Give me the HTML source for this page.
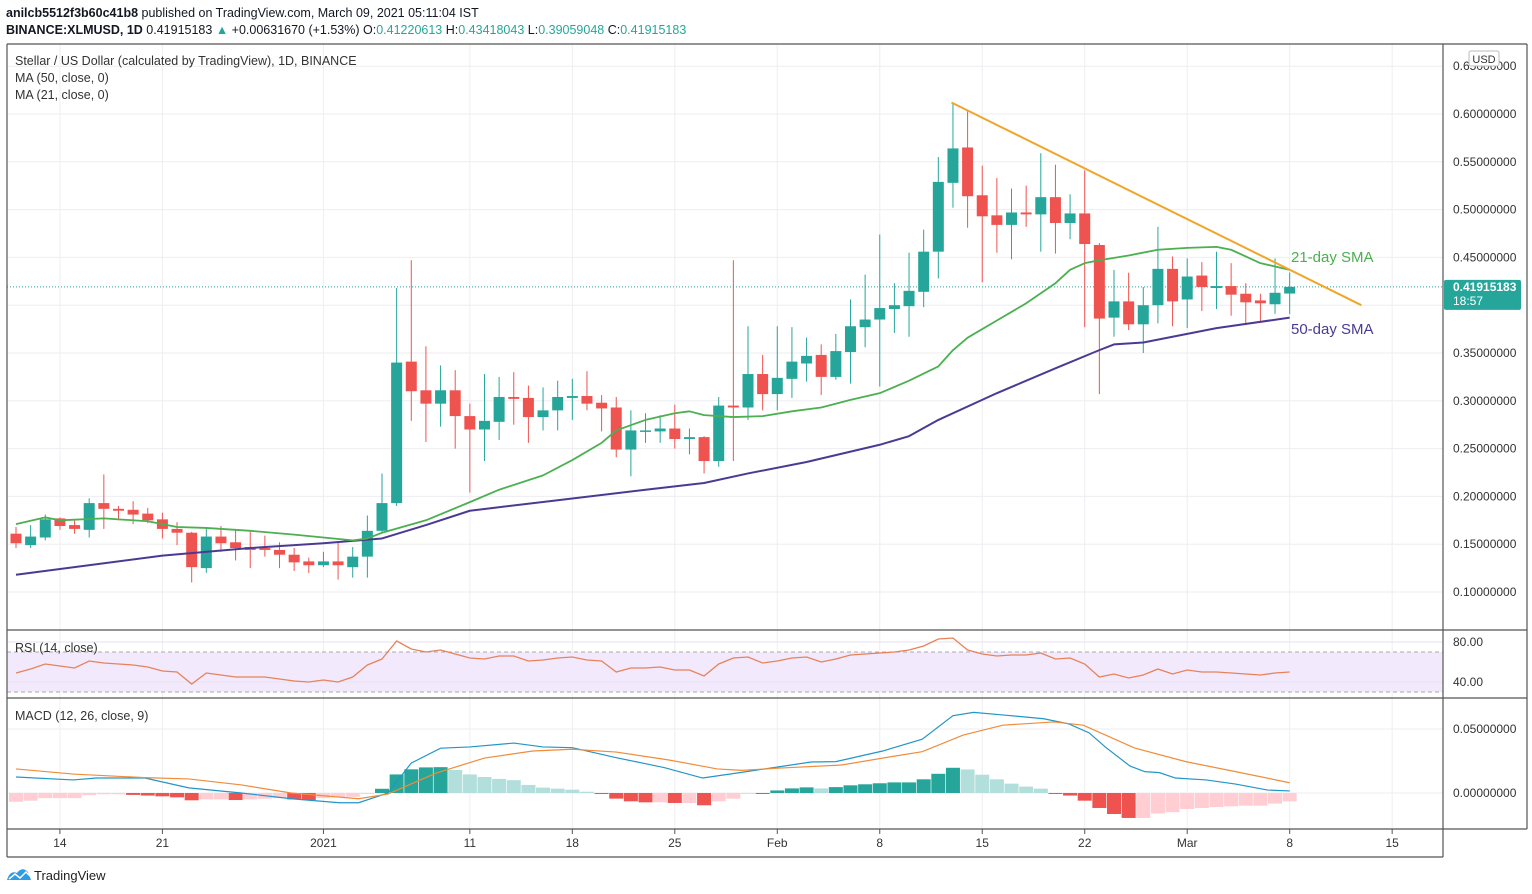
<!DOCTYPE html>
<html><head><meta charset="utf-8"><style>
html,body{margin:0;padding:0;background:#fff;width:1532px;height:894px;overflow:hidden;font-family:"Liberation Sans",sans-serif}
svg text{font-family:"Liberation Sans",sans-serif}
</style></head><body>
<svg id="c" width="1532" height="894" viewBox="0 0 1532 894" xmlns="http://www.w3.org/2000/svg">
<text x="6" y="17" font-size="12.5" fill="#131722"><tspan font-weight="bold">anilcb5512f3b60c41b8</tspan> published on TradingView.com, March 09, 2021 05:11:04 IST</text>
<text x="6" y="34" font-size="12.5" fill="#131722"><tspan font-weight="bold">BINANCE:XLMUSD, 1D</tspan> 0.41915183 <tspan fill="#26a69a">▲</tspan> +0.00631670 (+1.53%) O:<tspan fill="#26a69a">0.41220613</tspan> H:<tspan fill="#26a69a">0.43418043</tspan> L:<tspan fill="#26a69a">0.39059048</tspan> C:<tspan fill="#26a69a">0.41915183</tspan></text>
<g id="grid"></g>
<g id="rsiPane"></g>
<g id="macdPane"></g>
<g id="main"></g>
<g id="frame"></g>
<g id="labels"></g>
</svg>
<script>
const NS="http://www.w3.org/2000/svg";
// ---- data ----
const opens=[0.161,0.149,0.157,0.177,0.170,0.165,0.193,0.187,0.186,0.182,0.176,0.166,0.162,0.125,0.158,0.152,0.147,0.146,0.144,0.139,0.132,0.128,0.132,0.126,0.137,0.164,0.193,0.341,0.311,0.297,0.311,0.284,0.270,0.278,0.304,0.303,0.283,0.290,0.303,0.305,0.298,0.293,0.249,0.268,0.268,0.271,0.260,0.262,0.237,0.295,0.293,0.328,0.307,0.323,0.339,0.348,0.325,0.351,0.377,0.385,0.396,0.399,0.414,0.456,0.528,0.565,0.515,0.494,0.484,0.497,0.495,0.513,0.486,0.496,0.463,0.387,0.404,0.380,0.400,0.438,0.406,0.431,0.418,0.420,0.412,0.405,0.401,0.4122];
const highs=[0.168,0.170,0.181,0.178,0.176,0.198,0.223,0.190,0.195,0.188,0.183,0.173,0.163,0.167,0.169,0.166,0.163,0.159,0.152,0.146,0.136,0.142,0.152,0.147,0.180,0.224,0.418,0.447,0.357,0.337,0.332,0.297,0.328,0.325,0.330,0.316,0.314,0.321,0.323,0.331,0.306,0.304,0.290,0.287,0.285,0.296,0.271,0.263,0.304,0.447,0.378,0.348,0.378,0.377,0.366,0.359,0.370,0.406,0.432,0.474,0.423,0.455,0.479,0.555,0.612,0.604,0.546,0.533,0.522,0.525,0.559,0.547,0.516,0.541,0.465,0.437,0.434,0.419,0.482,0.451,0.449,0.445,0.456,0.444,0.423,0.412,0.449,0.4342];
const lows=[0.146,0.146,0.154,0.165,0.161,0.157,0.166,0.175,0.171,0.172,0.156,0.149,0.110,0.120,0.142,0.133,0.125,0.137,0.125,0.122,0.120,0.126,0.113,0.115,0.115,0.162,0.190,0.279,0.257,0.273,0.250,0.204,0.237,0.259,0.275,0.256,0.269,0.269,0.280,0.290,0.268,0.241,0.221,0.256,0.256,0.250,0.244,0.224,0.231,0.237,0.280,0.290,0.290,0.303,0.320,0.306,0.322,0.318,0.356,0.315,0.371,0.367,0.398,0.428,0.502,0.481,0.424,0.455,0.448,0.482,0.456,0.454,0.469,0.377,0.307,0.367,0.374,0.350,0.381,0.378,0.376,0.394,0.396,0.389,0.381,0.382,0.391,0.3906];
const closes=[0.151,0.158,0.176,0.169,0.166,0.193,0.187,0.185,0.181,0.175,0.166,0.162,0.126,0.158,0.151,0.146,0.144,0.144,0.139,0.131,0.128,0.132,0.128,0.137,0.164,0.193,0.340,0.310,0.297,0.311,0.284,0.270,0.279,0.304,0.302,0.283,0.290,0.304,0.305,0.297,0.292,0.249,0.269,0.269,0.271,0.260,0.262,0.237,0.295,0.293,0.328,0.307,0.324,0.341,0.347,0.325,0.352,0.378,0.385,0.397,0.400,0.415,0.456,0.529,0.564,0.514,0.493,0.484,0.497,0.495,0.513,0.486,0.496,0.464,0.386,0.404,0.380,0.400,0.438,0.404,0.430,0.419,0.420,0.411,0.403,0.402,0.413,0.4192];
const sma21Days=[0,2,3,6,9,11,13,16,19,21,23,24,25,28,31,33,36,38,40,41,43,45,46,47,49,51,53,55,57,59,61,63,64,65,67,69,71,72,73,74,76,78,80,82,83,85,87];
const sma21Vals=[0.171,0.178,0.175,0.177,0.174,0.168,0.167,0.164,0.160,0.157,0.154,0.156,0.162,0.175,0.194,0.207,0.222,0.238,0.256,0.269,0.280,0.287,0.289,0.285,0.283,0.284,0.289,0.293,0.301,0.308,0.321,0.336,0.353,0.366,0.384,0.402,0.423,0.437,0.444,0.447,0.452,0.458,0.460,0.461,0.458,0.444,0.437];
const sma50Days=[0,10,16,21,25,28,31,37,43,47,50,54,59,61,63,67,71,74,75,77,79,82,87];
const sma50Vals=[0.118,0.138,0.146,0.151,0.156,0.170,0.185,0.196,0.207,0.214,0.224,0.236,0.254,0.263,0.280,0.308,0.334,0.353,0.359,0.361,0.367,0.376,0.387];
const trendDays=[63.9,91.9];
const trendVals=[0.612,0.400];
const rsiVals=[49,53,58,56,54,61,59,58,57,55,51,50,38,49,47,45,45,45,43,41,40,42,40,45,57,63,81,73,70,72,68,64,63,66,66,61,62,64,65,62,61,50,54,54,55,52,52,46,58,64,65,59,61,64,65,60,63,67,68,69,70,72,76,83,84,72,68,66,67,67,69,63,64,58,45,48,44,47,53,48,52,50,50,49,48,47,49,50];
const histVals=[-0.0068,-0.006,-0.004,-0.004,-0.004,-0.0017,-0.001,-0.001,-0.0015,-0.002,-0.0026,-0.0034,-0.0057,-0.005,-0.005,-0.0055,-0.005,-0.0045,-0.004,-0.005,-0.0055,-0.004,-0.0035,-0.003,-0.0005,0.0033,0.0145,0.0185,0.020,0.0202,0.018,0.0145,0.0125,0.011,0.010,0.0063,0.0042,0.0034,0.0026,0.001,-0.0008,-0.0044,-0.0065,-0.0073,-0.0073,-0.0078,-0.0078,-0.0096,-0.0065,-0.0044,-0.0007,0,0.002,0.0036,0.0044,0.0036,0.0046,0.006,0.0068,0.0076,0.0083,0.0083,0.0107,0.015,0.0197,0.0184,0.0143,0.0107,0.0073,0.005,0.0034,-0.0002,-0.002,-0.006,-0.0117,-0.0164,-0.0195,-0.0195,-0.016,-0.015,-0.0125,-0.0117,-0.011,-0.0104,-0.0099,-0.0099,-0.0083,-0.0065];
const macdDays=[0,3.9,5.5,8.8,11.8,15.4,18.8,22.1,23.4,25.4,27,29,31,34,36,38,41,44.3,46.9,49.5,52.2,54.3,56,59.2,61.9,64,65.4,67.4,70.2,71.9,73.3,74.4,76.1,77.1,78.1,79.2,81.3,83.3,85.5,87];
const macdVals=[0.0125,0.0102,0.0117,0.0117,0.004,0,-0.0045,-0.0076,-0.0076,0,0.0234,0.035,0.036,0.039,0.036,0.0354,0.0276,0.0198,0.0117,0.016,0.0206,0.0242,0.0245,0.0328,0.042,0.0604,0.063,0.061,0.058,0.054,0.047,0.036,0.021,0.0167,0.0159,0.0117,0.0102,0.007,0.0023,0.0016];
const signalDays=[0,3.9,8.8,11.8,15.4,18.8,23.4,25.4,28.7,32,35.3,38,41,44.6,47.9,49.6,52.2,56.4,59.8,61.9,64.7,67.4,70.9,72.9,76.4,79.9,83.3,87];
const signalVals=[0.0188,0.0148,0.012,0.011,0.0063,0,-0.0045,-0.0008,0.0156,0.0273,0.0328,0.0342,0.032,0.0258,0.0188,0.0177,0.0195,0.0219,0.0284,0.0323,0.0453,0.053,0.0555,0.053,0.0352,0.0245,0.0167,0.008];
const priceTicks=[0.10,0.15,0.20,0.25,0.30,0.35,0.40,0.45,0.50,0.55,0.60,0.65];
const timeLabels=['14','21','2021','11','18','25','Feb','8','15','22','Mar','8','15'];
const timeDays=[3,10,21,31,38,45,52,59,66,73,80,87,94];
const rsiTicks=[80,40];
const macdTicks=[0.05,0];
// ---- scales ----
const X=i=>16+i*14.64;
const YP=p=>592-(p-0.10)*956;
const YR=r=>722-r;
const YM=v=>793-v*1280;
function mk(tag,attrs,parent){const e=document.createElementNS(NS,tag);for(const k in attrs)e.setAttribute(k,attrs[k]);parent.appendChild(e);return e;}
const G=id=>document.getElementById(id);
const grid=G('grid'),main=G('main'),rsiP=G('rsiPane'),macdP=G('macdPane'),frame=G('frame'),labels=G('labels');
// grid
priceTicks.forEach(p=>{const l=mk('line',{x1:7,x2:1443,y1:YP(p),y2:YP(p),stroke:'#eeeef2','stroke-width':1},grid);

});
timeDays.forEach(d=>{[[44,630],[630,698],[698,829]].forEach(r=>{const l=mk('line',{x1:X(d),x2:X(d),y1:r[0],y2:r[1],stroke:'#eeeef2','stroke-width':1},grid);

});});
// RSI pane
const band=mk('rect',{x:7,y:YR(70),width:1436,height:40,fill:'#f3e9fd'},rsiP);


rsiTicks.forEach(t=>{const l=mk('line',{x1:7,x2:1443,y1:YR(t),y2:YR(t),stroke:'#e6e2ee'},rsiP);

});
[70,30].forEach(t=>{const l=mk('line',{x1:7,x2:1443,y1:YR(t),y2:YR(t),stroke:'#aaa','stroke-dasharray':'4 3'},rsiP);

});
const rsiLine=mk('polyline',{points:rsiVals.map((v,i)=>X(i)+','+YR(v)).join(' '),fill:'none',stroke:'#e8825a','stroke-width':1.3},rsiP);


// MACD pane
macdTicks.forEach(t=>{const l=mk('line',{x1:7,x2:1443,y1:YM(t),y2:YM(t),stroke:'#eeeef2'},macdP);

});
histVals.forEach((v,i)=>{const prev=i?histVals[i-1]:v;let c;
if(v>=0)c=(v>=prev)?'#26a69a':'#b2dfdb';else c=(v<prev)?'#ef5350':'#ffcdd2';
const y0=YM(0),y1=YM(v);const r=mk('rect',{x:X(i)-7,y:Math.min(y0,y1),width:14,height:Math.max(1,Math.abs(y1-y0)),fill:c},macdP);

});
const ml=mk('polyline',{points:macdDays.map((d,i)=>X(d)+','+YM(macdVals[i])).join(' '),fill:'none',stroke:'#2196c8','stroke-width':1.2},macdP);


const sl=mk('polyline',{points:signalDays.map((d,i)=>X(d)+','+YM(signalVals[i])).join(' '),fill:'none',stroke:'#f08c3a','stroke-width':1.2},macdP);


// main pane
const cur=mk('line',{x1:7,x2:1443,y1:YP(closes[closes.length-1]),y2:YP(closes[closes.length-1]),stroke:'#26a69a','stroke-dasharray':'1 2'},main);


opens.forEach((o,i)=>{const c=closes[i];const col=c>=o?'#26a69a':'#ef5350';const x=X(i);
const w=mk('line',{x1:x,x2:x,y1:YP(highs[i]),y2:YP(lows[i]),stroke:col,'stroke-width':1},main);


const yt=YP(Math.max(o,c)),yb=YP(Math.min(o,c));
const b=mk('rect',{x:x-5.5,y:yt,width:11,height:Math.max(1.5,yb-yt),fill:col},main);

});
const s50=mk('polyline',{points:sma50Days.map((d,i)=>X(d)+','+YP(sma50Vals[i])).join(' '),fill:'none',stroke:'#4b3a94','stroke-width':2,'stroke-linejoin':'round'},main);


const s21=mk('polyline',{points:sma21Days.map((d,i)=>X(d)+','+YP(sma21Vals[i])).join(' '),fill:'none',stroke:'#4caf50','stroke-width':1.8,'stroke-linejoin':'round'},main);


const tr=mk('line',{x1:X(trendDays[0]),y1:YP(trendVals[0]),x2:X(trendDays[1]),y2:YP(trendVals[1]),stroke:'#f0a62a','stroke-width':2},main);


// frame
[[7,44,1527,44],[7,630,1527,630],[7,698,1527,698],[7,829,1527,829],[7,857,1443,857],[7,44,7,857],[1443,44,1443,857],[1527,44,1527,829]].forEach(a=>{
const l=mk('line',{x1:a[0],y1:a[1],x2:a[2],y2:a[3],stroke:'#555','stroke-width':1.2},frame);

});
// labels
function tx(x,y,s,attrs,name){const t=mk('text',Object.assign({x:x,y:y,'font-size':12,fill:'#333'},attrs||{}),labels);t.textContent=s;

return t;}
priceTicks.forEach(p=>{tx(1453,YP(p)+4,p.toFixed(8),{},'price-tick-label');});
rsiTicks.forEach(r=>{tx(1453,YR(r)+4,r.toFixed(2),{},'rsi-tick-label');});
macdTicks.forEach(v=>{tx(1453,YM(v)+4,v.toFixed(8),{},'macd-tick-label');});
timeLabels.forEach((s,i)=>{const x=X(timeDays[i]);
const tk=mk('line',{x1:x,x2:x,y1:829,y2:834,stroke:'#555'},labels);


tx(x,847,s,{'text-anchor':'middle'},'time-label');});
const usd=mk('rect',{x:1469,y:51,width:30,height:15,fill:'#fff',stroke:'#bbb',rx:2},labels);


tx(1484,63,'USD',{'text-anchor':'middle','font-size':11},'currency-label');
const cb=mk('rect',{x:1444,y:YP(closes[closes.length-1])-7,width:77,height:30,fill:'#26a69a',rx:2},labels);


tx(1453,YP(closes[closes.length-1])+4,'0.41915183',{fill:'#fff','font-weight':'bold'},'last-price-value');
tx(1453,YP(closes[closes.length-1])+18,'18:57',{fill:'#fff'},'countdown-label');
tx(15,65,'Stellar / US Dollar (calculated by TradingView), 1D, BINANCE',{'font-size':12.5},'symbol-legend');
tx(15,82,'MA (50, close, 0)',{'font-size':12.5},'ma50-legend');
tx(15,99,'MA (21, close, 0)',{'font-size':12.5},'ma21-legend');
tx(15,652,'RSI (14, close)',{'font-size':12.5},'rsi-title');
tx(15,720,'MACD (12, 26, close, 9)',{'font-size':12.5},'macd-title');
tx(1291,262,'21-day SMA',{fill:'#4caf50','font-size':15},'sma21-annotation');
tx(1291,334,'50-day SMA',{fill:'#4b3a94','font-size':15},'sma50-annotation');
// logo
const logo=mk('path',{d:'M7 880 Q10 870 17 873 Q22 866 28 872 L31 880 Z',fill:'#2e9be6'},labels);


const lw=mk('polyline',{points:'9,879 15,874 20,878 26,872 30,876',fill:'none',stroke:'#fff','stroke-width':1.5},labels);


tx(34,880,'TradingView',{'font-size':13,fill:'#222'},'tradingview-brand');
</script>
</body></html>
